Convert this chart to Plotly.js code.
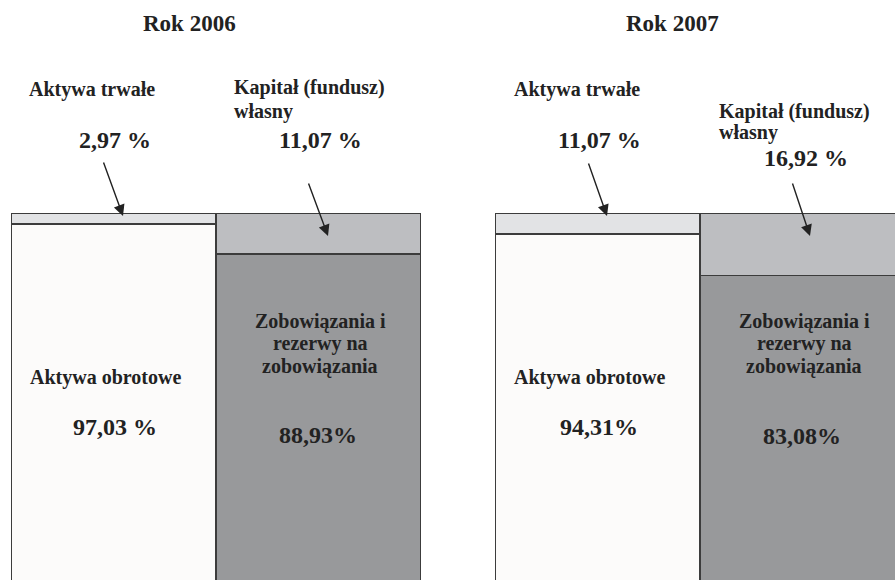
<!DOCTYPE html>
<html>
<head>
<meta charset="utf-8">
<script src="https://cdn.plot.ly/plotly-3.0.1.min.js"></script>
<style>html,body{margin:0;padding:0;overflow:hidden;background:#fff}#chart{width:895px;height:580px}</style>
</head>
<body>
<div id="chart"></div>
<script>
// Data
const categories = ["Aktywa", "Pasywa"];
const top2006 = [2.97, 11.07];      // Aktywa trwałe, Kapitał (fundusz) własny
const bottom2006 = [97.03, 88.93];  // Aktywa obrotowe, Zobowiązania i rezerwy
const top2007 = [5.69, 16.92];
const bottom2007 = [94.31, 83.08];
const topLabels2006 = ["2,97 %", "11,07 %"];
const bottomLabels2006 = ["97,03 %", "88,93%"];
const topLabels2007 = ["11,07 %", "16,92 %"];
const bottomLabels2007 = ["94,31%", "83,08%"];

const W = 895, H = 580;
const FONT = "Liberation Serif";
const TXT = "#222222";
const lineStyle = {color: "#3c3c3c", width: 1.5};
const xpos = [0, 1];

function bar(y, colors, xa, ya) {
  return {type: "bar", x: xpos, y: y, width: [1, 1], xaxis: xa, yaxis: ya,
    marker: {color: colors, line: lineStyle}, hoverinfo: "skip", showlegend: false};
}

const data = [
  bar(top2006, ["#e2e3e5", "#bdbec1"], "x", "y"),
  bar(bottom2006, ["#fcfbfa", "#98999b"], "x", "y"),
  bar(top2007, ["#e2e3e5", "#bdbec1"], "x2", "y2"),
  bar(bottom2007, ["#fcfbfa", "#98999b"], "x2", "y2")
];

const px = x => x / W;
const py = y => 1 - y / H;

function txt(text, x, y, size, xanchor) {
  return {text: text, x: px(x), y: py(y), xref: "paper", yref: "paper",
    xanchor: xanchor || "left", yanchor: "middle", showarrow: false,
    font: {family: FONT, size: size, color: TXT, weight: 700}};
}
function arrow(tx, ty, ax, ay) {
  return {text: "", x: px(tx), y: py(ty), xref: "paper", yref: "paper",
    ax: ax, ay: ay, showarrow: true, arrowhead: 2, arrowsize: 1.6, arrowwidth: 1.4,
    arrowcolor: "#222"};
}

const annotations = [
  txt("Rok 2006", 189, 23, 23, "center"),
  txt("Rok 2007", 672, 23, 23, "center"),
  // 2006 top labels
  txt("Aktywa trwałe", 27, 90, 20),
  txt(topLabels2006[0], 77, 140, 24),
  txt("Kapitał (fundusz)", 232, 88, 20),
  txt("własny", 232, 112, 20),
  txt(topLabels2006[1], 277, 140, 24),
  arrow(123, 216, -20, -55),
  arrow(328, 236, -20, -54),
  // 2007 top labels
  txt("Aktywa trwałe", 512, 90, 20),
  txt(topLabels2007[0], 556, 140, 24),
  txt("Kapitał (fundusz)", 717, 112, 20),
  txt("własny", 717, 132, 20),
  txt(topLabels2007[1], 762, 158, 24),
  arrow(607, 216, -19, -54),
  arrow(810, 236, -18, -54),
  // 2006 inside
  txt("Aktywa obrotowe", 28, 377, 20),
  txt(bottomLabels2006[0], 71, 427, 24),
  txt("Zobowiązania i", 320, 321, 20, "center"),
  txt("rezerwy na", 320, 343, 20, "center"),
  txt("zobowiązania", 320, 366, 20, "center"),
  txt(bottomLabels2006[1], 318, 435, 24, "center"),
  // 2007 inside
  txt("Aktywa obrotowe", 512, 377, 20),
  txt(bottomLabels2007[0], 558, 427, 24),
  txt("Zobowiązania i", 804, 321, 20, "center"),
  txt("rezerwy na", 804, 343, 20, "center"),
  txt("zobowiązania", 804, 366, 20, "center"),
  txt(bottomLabels2007[1], 802, 436, 24, "center")
];

const hidden = {visible: false, showgrid: false, zeroline: false, fixedrange: true};
const yDom = [0, (H - 213) / H];

const layout = {
  width: W, height: H,
  margin: {l: 0, r: 0, t: 0, b: 0},
  paper_bgcolor: "#ffffff", plot_bgcolor: "rgba(0,0,0,0)",
  barmode: "stack", bargap: 0,
  showlegend: false,
  xaxis: Object.assign({}, hidden, {domain: [11 / W, 421 / W], range: [-0.5, 1.5]}),
  xaxis2: Object.assign({}, hidden, {domain: [495 / W, 1], range: [-0.5, -0.5 + 400 / 205], anchor: "y2"}),
  yaxis: Object.assign({}, hidden, {domain: yDom, range: [99.6, 0]}),
  yaxis2: Object.assign({}, hidden, {domain: yDom, range: [99.6, 0], anchor: "x2"}),
  annotations: annotations
};

Plotly.newPlot("chart", data, layout, {staticPlot: true, displayModeBar: false});
</script>
</body>
</html>
